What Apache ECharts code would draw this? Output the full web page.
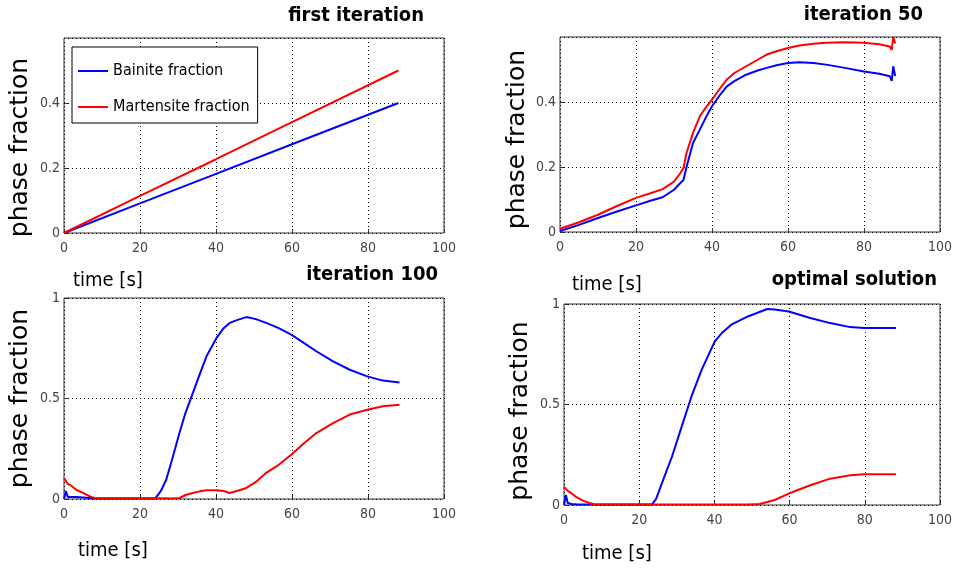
<!DOCTYPE html>
<html>
<head>
<meta charset="utf-8">
<style>
  html, body { margin: 0; padding: 0; background: #fff; }
  #chart { width: 955px; height: 574px; }
</style>
<script src="https://cdn.jsdelivr.net/npm/echarts@6/dist/echarts.min.js"></script>
</head>
<body>
<div id="chart"></div>
<script>
// first iteration
const t1 = [0, 20, 40, 60, 88]
const bainite1 = [0, 0.091, 0.182, 0.273, 0.4]
const martensite1 = [0, 0.114, 0.227, 0.341, 0.5]

// iteration 50
const t50 = [0, 5, 10, 15, 20, 24, 27, 30, 31.6, 32.5, 33.3, 35, 36.8, 38.5, 40, 42, 43.9, 46, 49, 52,
  54.4, 57, 60, 63, 66.7, 70, 75, 80, 84, 86.8, 87.3, 87.7, 88.2]
const bainite50 = [0.003, 0.022, 0.043, 0.063, 0.082, 0.097, 0.107, 0.13, 0.15, 0.16, 0.2, 0.274, 0.315,
  0.355, 0.387, 0.42, 0.448, 0.465, 0.484, 0.497, 0.505, 0.513, 0.52, 0.522, 0.52, 0.515, 0.505, 0.494,
  0.487, 0.479, 0.465, 0.51, 0.48]
const martensite50 = [0.01, 0.03, 0.053, 0.08, 0.105, 0.12, 0.132, 0.155, 0.18, 0.197, 0.243, 0.305, 0.356,
  0.385, 0.407, 0.44, 0.469, 0.49, 0.51, 0.53, 0.546, 0.556, 0.566, 0.574, 0.579, 0.582, 0.584, 0.582,
  0.578, 0.571, 0.56, 0.6, 0.58]

// iteration 100
const t100 = [0, 0.5, 1, 2, 3.2, 5, 6.8, 8, 15, 20, 24, 25.5, 26.9, 28.5, 30.4, 32, 33.9, 35.7, 37.5, 40.1,
  42, 43.6, 45.5, 48, 50.5, 53.2, 56.5, 59.8, 63, 66.4, 70.8, 75.2, 79.8, 83.9, 88.3]
const bainite100 = [0, 0.04, 0.01, 0.01, 0.01, 0.008, 0.005, 0.002, 0.002, 0.002, 0.002, 0.04, 0.096, 0.2,
  0.33, 0.43, 0.527, 0.62, 0.71, 0.8, 0.85, 0.876, 0.89, 0.905, 0.895, 0.876, 0.85, 0.818, 0.778, 0.735,
  0.685, 0.643, 0.61, 0.589, 0.58]
const martensite100 = [0.104, 0.09, 0.075, 0.065, 0.046, 0.03, 0.013, 0.005, 0.004, 0.004, 0.004, 0.004,
  0.004, 0.003, 0.005, 0.02, 0.03, 0.038, 0.043, 0.043, 0.04, 0.03, 0.04, 0.055, 0.085, 0.13, 0.17, 0.22,
  0.275, 0.328, 0.378, 0.42, 0.444, 0.461, 0.469]

// optimal solution
const tOpt = [0, 0.5, 1, 2, 3.2, 5, 6.8, 8, 15, 20, 23.4, 24.5, 26, 28.7, 31.3, 33.9, 36.6, 40.1, 42.2,
  44.5, 48.9, 52, 54.1, 56, 59.8, 65.5, 70.8, 76.1, 79.8, 84, 88.3]
const bainiteOpt = [0, 0.05, 0.01, 0.005, 0.004, 0.003, 0.003, 0.003, 0.003, 0.003, 0.003, 0.03, 0.106,
  0.24, 0.39, 0.54, 0.672, 0.814, 0.86, 0.897, 0.938, 0.96, 0.975, 0.973, 0.963, 0.93, 0.905, 0.885,
  0.88, 0.88, 0.88]
const martensiteOpt = [0.09, 0.085, 0.07, 0.058, 0.04, 0.022, 0.01, 0.004, 0.003, 0.003, 0.003, 0.003,
  0.003, 0.003, 0.003, 0.003, 0.003, 0.003, 0.003, 0.003, 0.003, 0.005, 0.015, 0.025, 0.057, 0.098,
  0.131, 0.148, 0.153, 0.153, 0.153]

const titles = ['first iteration', 'iteration 50', 'iteration 100', 'optimal solution']
const xTicks = [0, 20, 40, 60, 80, 100]

const narrow = "'Liberation Sans Narrow', 'DejaVu Sans Condensed', 'Liberation Sans', sans-serif"
const wide = "'DejaVu Sans', 'Liberation Sans', sans-serif"

const panels = [
  { grid: { left: 64, top: 38, width: 380, height: 195 }, ymax: 0.6, yint: 0.2,
    title: { right: 531, top: 6 }, yGap: 31, yPad: 24, xName: [9, 38],
    t: t1, b: bainite1, m: martensite1 },
  { grid: { left: 560, top: 37, width: 380, height: 195 }, ymax: 0.6, yint: 0.2,
    title: { right: 32, top: 5 }, yGap: 30, yPad: 10, xName: [12, 43],
    t: t50, b: bainite50, m: martensite50 },
  { grid: { left: 64, top: 298, width: 380, height: 201 }, ymax: 1, yint: 0.5,
    title: { right: 517, top: 265 }, yGap: 31, yPad: 0, xName: [14, 42],
    t: t100, b: bainite100, m: martensite100 },
  { grid: { left: 564, top: 304, width: 380, height: 201 }, ymax: 1, yint: 0.5,
    title: { right: 18, top: 270 }, yGap: 31, yPad: 13, xName: [18, 39],
    t: tOpt, b: bainiteOpt, m: martensiteOpt }
]

const zip = (xs, ys) => xs.map((x, i) => [x, ys[i]])

const option = {
  backgroundColor: '#fff',
  animation: false,
  title: panels.map((p, i) => ({
    text: titles[i],
    right: p.title.right,
    top: p.title.top,
    padding: 0,
    textStyle: { fontFamily: narrow, fontWeight: 'bold', fontSize: 20, color: '#000' }
  })),
  legend: {
    data: ['Bainite fraction', 'Martensite fraction'],
    orient: 'vertical',
    left: 72,
    top: 47,
    padding: [14, 8, 6, 6],
    itemGap: 16,
    itemWidth: 30,
    itemHeight: 2,
    icon: 'rect',
    backgroundColor: '#fff',
    borderColor: '#000',
    borderWidth: 1,
    borderRadius: 0,
    textStyle: { fontFamily: narrow, fontSize: 16, color: '#000', lineHeight: 20 }
  },
  grid: panels.map(p => Object.assign({ show: true, borderColor: '#333', borderWidth: 1, backgroundColor: '#fff' }, p.grid)),
  xAxis: panels.map((p, i) => ({
    type: 'value',
    gridIndex: i,
    min: xTicks[0],
    max: xTicks[xTicks.length - 1],
    interval: 20,
    name: 'time [s]',
    nameLocation: 'start',
    nameGap: -p.xName[0],
    nameTextStyle: { fontFamily: narrow, fontSize: 20, color: '#000', align: 'left', verticalAlign: 'top', padding: [p.xName[1], 0, 0, 0] },
    axisLine: { show: false },
    axisTick: { inside: true, length: 4, lineStyle: { color: '#333' } },
    axisLabel: { fontFamily: narrow, fontSize: 14, color: '#444', margin: 8 },
    splitLine: { show: true, lineStyle: { color: '#000', type: [1, 3], width: 1 } }
  })),
  yAxis: panels.map((p, i) => ({
    type: 'value',
    gridIndex: i,
    min: 0,
    max: p.ymax,
    interval: p.yint,
    name: 'phase fraction',
    nameLocation: 'middle',
    nameGap: p.yGap,
    nameTextStyle: { fontFamily: wide, fontSize: 25, color: '#000', padding: [0, p.yPad, 0, 0] },
    axisLine: { show: false },
    axisTick: { inside: true, length: 4, lineStyle: { color: '#333' } },
    axisLabel: { fontFamily: narrow, fontSize: 14, color: '#444', margin: 4, showMaxLabel: p.ymax === 1 },
    splitLine: { show: true, lineStyle: { color: '#000', type: [1, 3], width: 1 } }
  })),
  series: panels.flatMap((p, i) => [
    { name: 'Bainite fraction', type: 'line', xAxisIndex: i, yAxisIndex: i, symbol: 'none',
      color: '#0000ff', lineStyle: { width: 2, color: '#0000ff' },
      data: zip(p.t, p.b) },
    { name: 'Martensite fraction', type: 'line', xAxisIndex: i, yAxisIndex: i, symbol: 'none',
      color: '#ff0000', lineStyle: { width: 2, color: '#ff0000' },
      data: zip(p.t, p.m) }
  ])
}

const chart = echarts.init(document.getElementById('chart'))
chart.setOption(option)
</script>
</body>
</html>
